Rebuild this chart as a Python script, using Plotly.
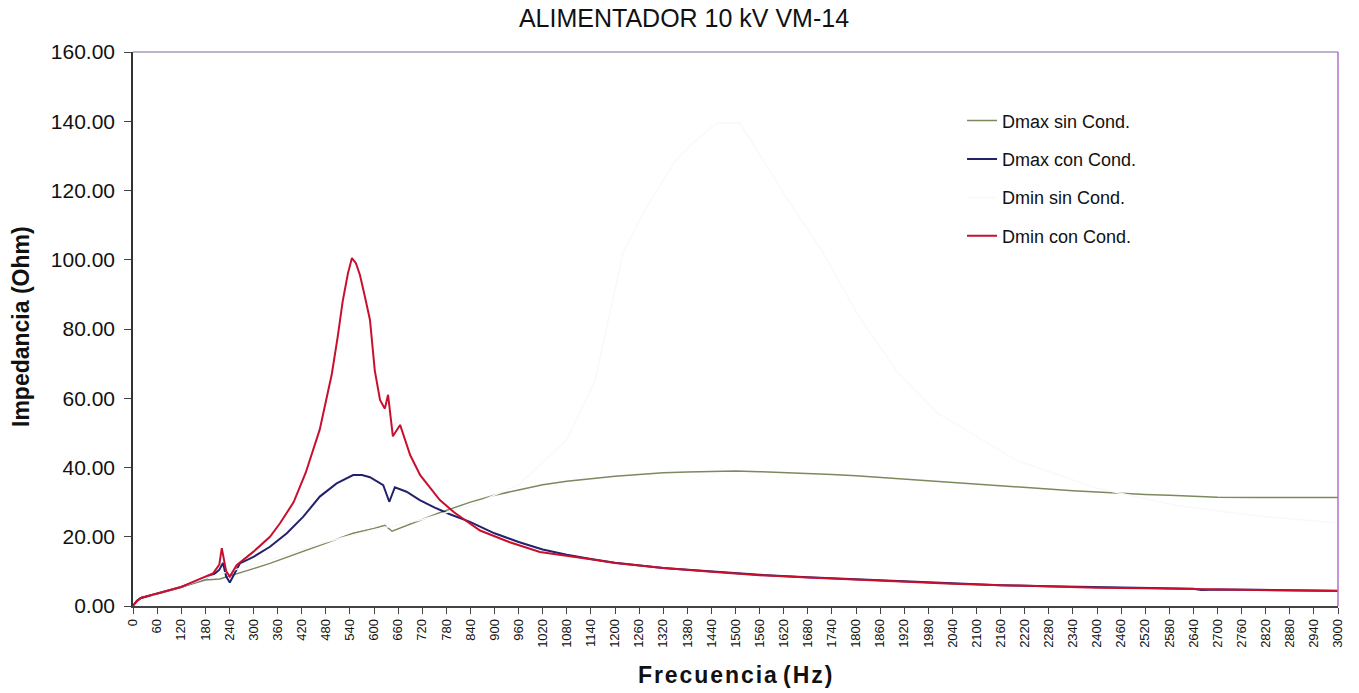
import plotly.graph_objects as go

# Dmax sin Cond.
f_dmax_sin = [0, 10, 20, 60, 120, 180, 216, 258, 300, 341, 400, 465, 548, 600, 627, 645, 715, 760, 840, 900, 960, 1020,
              1080, 1140, 1200, 1260, 1320, 1380, 1440, 1500, 1560, 1620, 1680, 1740, 1800, 1860, 1920, 1980, 2040,
              2100, 2160, 2220, 2280, 2340, 2400, 2460, 2520, 2580, 2640, 2700, 2800, 2900, 3000]
z_dmax_sin = [0, 1.5, 2.5, 3.5, 5.5, 7.5, 7.8, 9.4, 10.8, 12.3, 14.8, 17.6, 21.0, 22.4, 23.3, 21.6, 24.8, 26.8, 30.0, 32.0, 33.5, 35.0,
              36.0, 36.8, 37.5, 38.0, 38.5, 38.7, 38.9, 39.0, 38.8, 38.6, 38.3, 38.0, 37.6, 37.1, 36.6, 36.1, 35.6,
              35.1, 34.6, 34.1, 33.7, 33.3, 32.9, 32.5, 32.2, 32.0, 31.8, 31.4, 31.3, 31.3, 31.3]

# Dmax con Cond.
f_dmax_con = [0, 10, 20, 60, 120, 180, 200, 215, 224, 232, 241, 266, 300, 341, 383, 424, 465, 507, 548, 570, 590, 623, 638,
              652, 681, 714, 750, 789, 839, 900, 960, 1020, 1080, 1140, 1200, 1320, 1440, 1560, 1680, 1800, 1920,
              2040, 2160, 2280, 2400, 2520, 2640, 2660, 2700, 2800, 2900, 3000]
z_dmax_con = [0, 1.5, 2.3, 3.5, 5.5, 8.0, 9.0, 10.5, 12.4, 8.5, 6.8, 12.3, 14.2, 17.1, 21.0, 25.8, 31.6, 35.4, 37.8, 37.8, 37.2, 34.9, 30.1,
              34.3, 33.0, 30.6, 28.5, 26.5, 24.3, 21.0, 18.5, 16.3, 14.8, 13.6, 12.5, 11.0, 10.0, 9.0, 8.3, 7.7, 7.0,
              6.5, 6.0, 5.7, 5.4, 5.2, 5.0, 4.6, 4.8, 4.7, 4.6, 4.4]

# Dmin sin Cond. (nearly invisible in the original)
f_dmin_sin = [0, 60, 120, 180, 240, 360, 480, 600, 720, 840, 960, 1080, 1150, 1220, 1270, 1320, 1354, 1394, 1453,
              1511, 1553, 1611, 1643, 1693, 1718, 1800, 1900, 2000, 2200, 2400, 2600, 2800, 3000]
z_dmin_sin = [0, 3.5, 5.5, 8.0, 10.0, 14.0, 18.5, 22.0, 25.0, 29.0, 35.0, 48.0, 65.0, 102.0, 113.5, 123.0, 129.0, 133.7, 139.5,
              139.5, 131.7, 121.0, 115.0, 106.6, 102.0, 85.0, 68.0, 56.0, 42.0, 34.0, 29.0, 26.0, 24.0]

# Dmin con Cond.
f_dmin_con = [0, 10, 20, 60, 120, 180, 200, 215, 221, 232, 241, 258, 300, 341, 366, 400, 430, 465, 480, 495, 510, 522, 535, 545,
              555, 565, 578, 590, 602, 615, 627, 635, 647, 665, 690, 715, 764, 800, 864, 938, 1013, 1080, 1140, 1200, 1320,
              1440, 1560, 1680, 1800, 1920, 2040, 2160, 2280, 2400, 2520, 2640, 2700, 2800, 2900, 3000]
z_dmin_con = [0, 1.5, 2.3, 3.5, 5.5, 8.5, 9.5, 12.0, 16.7, 10.0, 8.5, 11.8, 15.7, 20.0, 23.9, 30.0, 38.5, 51.0, 59.5, 67.0, 78.0, 88.0, 96.0, 100.5,
              99.0, 95.6, 89.0, 82.6, 68.0, 59.5, 57.0, 61.0, 49.0, 52.3, 43.6, 37.8, 30.6, 27.0, 21.8, 18.4, 15.6, 14.6, 13.5, 12.4, 11.0,
              9.9, 8.9, 8.2, 7.6, 6.9, 6.4, 6.0, 5.6, 5.3, 5.1, 4.9, 4.6, 4.5, 4.4, 4.3]

x_ticks = list(range(0, 3001, 60))
y_ticks = list(range(0, 161, 20))

font_family = "Liberation Sans, Arial, sans-serif"

fig = go.Figure()
fig.add_trace(go.Scatter(x=f_dmax_sin, y=z_dmax_sin, mode="lines", name="Dmax sin Cond.", legendgroup="a",
                         line=dict(color="#7b8a5e", width=1.5)))
fig.add_trace(go.Scatter(x=f_dmax_con, y=z_dmax_con, mode="lines", name="Dmax con Cond.", legendgroup="b",
                         line=dict(color="#22226c", width=2)))
fig.add_trace(go.Scatter(x=f_dmin_sin, y=z_dmin_sin, mode="lines", name="Dmin sin Cond.", legendgroup="c",
                         line=dict(color="#f9f9f9", width=1.5)))
fig.add_trace(go.Scatter(x=f_dmin_con, y=z_dmin_con, mode="lines", name="Dmin con Cond.", legendgroup="d",
                         line=dict(color="#c8102e", width=2)))

hs = "\u200a"
xtitle = hs.join(list("Frecuencia")) + " " + hs.join(list("(Hz)"))

fig.update_layout(
    width=1359, height=693,
    paper_bgcolor="white", plot_bgcolor="white",
    margin=dict(l=133, r=21, t=52, b=87),
    title=dict(text="ALIMENTADOR 10 kV VM-14", x=684 / 1359, xanchor="center", xref="container",
               y=1 - 18 / 693, yanchor="middle", yref="container",
               font=dict(family=font_family, size=25, color="#111")),
    font=dict(family=font_family, color="#111"),
    showlegend=True,
    legend=dict(x=0.688, y=0.909, xanchor="left", yanchor="top", bgcolor="rgba(0,0,0,0)",
                font=dict(family=font_family, size=18, color="#111"), tracegroupgap=12),
    xaxis=dict(range=[0, 3000], tickmode="array", tickvals=x_ticks, ticktext=[str(v) for v in x_ticks],
               tickangle=-90, ticks="outside", ticklen=6, tickcolor="#444", showgrid=False, zeroline=False,
               showline=True, linecolor="#444", linewidth=1.5, automargin=False,
               tickfont=dict(family=font_family, size=13, color="#111")),
    yaxis=dict(range=[0, 160], tickmode="array", tickvals=y_ticks, ticktext=[f"{v:.2f}" for v in y_ticks],
               ticks="outside", ticklen=7, tickcolor="#444", showgrid=False, zeroline=False,
               showline=True, linecolor="#333", linewidth=1.5, automargin=False, ticklabelstandoff=5,
               tickfont=dict(family=font_family, size=21, color="#111")),
    shapes=[
        dict(type="line", xref="paper", yref="paper", x0=0, x1=1, y0=1, y1=1,
             line=dict(color="#a898b8", width=1.5)),
        dict(type="line", xref="paper", yref="paper", x0=1, x1=1, y0=0, y1=1,
             line=dict(color="#b070c8", width=1.5)),
    ],
    annotations=[
        dict(text="<b>" + xtitle + "</b>", xref="paper", yref="paper", x=(735 - 133) / 1205, y=-(675 - 606) / 554,
             xanchor="center", yanchor="middle", showarrow=False,
             font=dict(family=font_family, size=23, color="#111")),
        dict(text="<b>Impedancia (Ohm)</b>", xref="paper", yref="paper", x=-(133 - 21) / 1205, y=(606 - 327) / 554,
             xanchor="center", yanchor="middle", showarrow=False, textangle=-90,
             font=dict(family=font_family, size=23, color="#111")),
    ],
)

fig.write_html("out.html", config={"displayModeBar": False},
               post_script="document.body.style.margin='0px';document.body.style.overflow='hidden';")
